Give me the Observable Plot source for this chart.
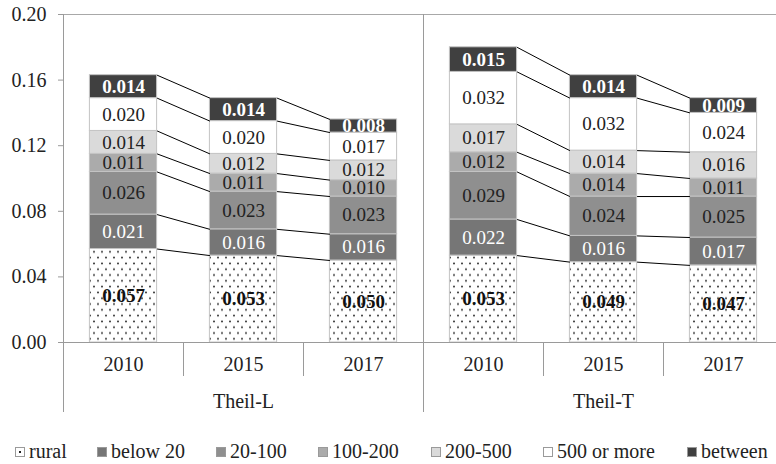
<!DOCTYPE html>
<html><head><meta charset="utf-8">
<script src="https://cdn.jsdelivr.net/npm/d3@7"></script>
<script src="https://cdn.jsdelivr.net/npm/@observablehq/plot@0.6"></script>
<style>
body{margin:0;background:#fff;font-family:'Liberation Serif','DejaVu Serif',serif;}
#wrap{position:relative;width:776px;height:464px;font-family:'Liberation Serif','DejaVu Serif',serif;overflow:hidden;}
#wrap svg, #wrap svg text{font-family:'Liberation Serif','DejaVu Serif',serif !important;}
.item{position:absolute;top:440px;font-size:20px;color:#222;line-height:22px;white-space:nowrap;}
.sw{position:absolute;top:7px;width:8px;height:8px;border:1px solid #9a9a9a;box-sizing:content-box;}
.dot{position:absolute;left:3px;top:3px;width:2px;height:2px;background:#222;}
</style></head><body><div id="wrap"></div>
<script>
const groups = ["Theil-L", "Theil-T"];
const years = ["2010", "2015", "2017"];
const series = ["rural", "below 20", "20-100", "100-200", "200-500", "500 or more", "between"];
// bar order: Theil-L 2010, 2015, 2017, Theil-T 2010, 2015, 2017
const rural    = [0.057, 0.053, 0.050, 0.053, 0.049, 0.047];
const below20  = [0.021, 0.016, 0.016, 0.022, 0.016, 0.017];
const s20_100  = [0.026, 0.023, 0.023, 0.029, 0.024, 0.025];
const s100_200 = [0.011, 0.011, 0.010, 0.012, 0.014, 0.011];
const s200_500 = [0.014, 0.012, 0.012, 0.017, 0.014, 0.016];
const s500     = [0.020, 0.020, 0.017, 0.032, 0.032, 0.024];
const between  = [0.014, 0.014, 0.008, 0.015, 0.014, 0.009];
const yTicks = [0, 0.04, 0.08, 0.12, 0.16, 0.20];

const values = [rural, below20, s20_100, s100_200, s200_500, s500, between];
const fills = ["url(#dots)", "#767676", "#8f8f8f", "#ababab", "#dadada", "#ffffff", "#404040"];
const textFills = ["#111", "#fff", "#222", "#222", "#222", "#222", "#fff"];
const pad = 0.22;
const FONT = "'Liberation Serif','DejaVu Serif',serif";

const segs = [];
const tops = [];
for (let i = 0; i < 6; i++) {
  let acc = 0;
  tops.push([]);
  series.forEach((s, k) => {
    const v = values[k][i];
    segs.push({i, k, series: s, value: v, y1: acc, y2: acc + v});
    acc += v;
    tops[i].push(acc);
  });
}
const links = [];
for (const [a, b] of [[0, 1], [1, 2], [3, 4], [4, 5]]) {
  for (let k = 0; k < series.length; k++) {
    links.push({x1: a + 1 - pad, y1: tops[a][k], x2: b + pad, y2: tops[b][k]});
  }
}
const bars = d3.range(6).map(i => ({i, year: years[i % 3]}));
const groupRows = groups.map((g, j) => ({g, x: j * 3 + 1.5}));
const fmt = d3.format(".3f");
const yAt = px => -(px - 342) / 1640; // below-axis offsets for divider lengths

const svg = Plot.plot({
  width: 776, height: 425,
  marginLeft: 63, marginRight: 0, marginTop: 14, marginBottom: 83,
  x: {type: "linear", domain: [0, 6], range: [63, 783], axis: null},
  y: {domain: [0, 0.2], axis: null},
  color: {type: "identity"},
  style: {fontFamily: FONT, fontSize: "20px", background: "white", color: "#222"},
  marks: [
    Plot.axisY({ticks: yTicks, tickFormat: d3.format(".2f"), tickSize: 5, tickPadding: 12, stroke: "#9a9a9a", fill: "#222", fontSize: 20, label: null}),
    Plot.ruleY([0.2], {x1: 0, x2: 6, stroke: "#a8a8a8"}),
    Plot.rect(segs, {x1: d => d.i + pad, x2: d => d.i + 1 - pad, y1: "y1", y2: "y2", fill: d => fills[d.k], stroke: "#c4c4c4", strokeWidth: 1}),
    Plot.link(links, {x1: "x1", y1: "y1", x2: "x2", y2: "y2", stroke: "#000", strokeWidth: 1}),
    Plot.text(segs.filter(d => d.k > 0 && d.k < 6), {x: d => d.i + 0.5, y: d => (d.y1 + d.y2) / 2, text: d => fmt(d.value), fill: d => textFills[d.k], fontSize: 19}),
    Plot.text(segs.filter(d => d.k === 0 || d.k === 6), {x: d => d.i + 0.5, y: d => (d.y1 + d.y2) / 2, text: d => fmt(d.value), fill: d => textFills[d.k], fontSize: 19, fontWeight: "bold"}),
    Plot.ruleY([0], {x1: 0, x2: 6, stroke: "#9a9a9a"}),
    Plot.ruleX([0, 3, 6], {y1: yAt(412), y2: 0.2, stroke: "#9a9a9a"}),
    Plot.ruleX([1, 2, 4, 5], {y1: yAt(376), y2: 0, stroke: "#9a9a9a"}),
    Plot.text(bars, {x: d => d.i + 0.5, y: 0, dy: 22, text: "year", fill: "#222", fontSize: 20}),
    Plot.text(groupRows, {x: "x", y: 0, dy: 59, text: "g", fill: "#222", fontSize: 20})
  ]
});
d3.select(svg).insert("defs", ":first-child").html(
  '<pattern id="dots" patternUnits="userSpaceOnUse" width="8" height="11.6">' +
  '<rect width="8" height="11.6" fill="#fff"/>' +
  '<circle cx="2" cy="2.5" r="0.95" fill="#222"/>' +
  '<circle cx="6" cy="8.3" r="0.95" fill="#222"/></pattern>');
const wrap = document.getElementById("wrap");
wrap.appendChild(svg);

const legendX = [15, 97, 216, 318, 431, 543, 687];
series.forEach((s, k) => {
  const item = document.createElement("div");
  item.className = "item";
  item.style.left = legendX[k] + "px";
  const sw = document.createElement("span");
  sw.className = "sw";
  sw.style.left = "0px";
  sw.style.background = k === 0 ? "#fff" : fills[k];
  if (k === 0) { const d = document.createElement("span"); d.className = "dot"; sw.appendChild(d); }
  item.appendChild(sw);
  const t = document.createElement("span");
  t.style.marginLeft = "14px";
  t.textContent = s;
  item.appendChild(t);
  wrap.appendChild(item);
});
</script></body></html>
